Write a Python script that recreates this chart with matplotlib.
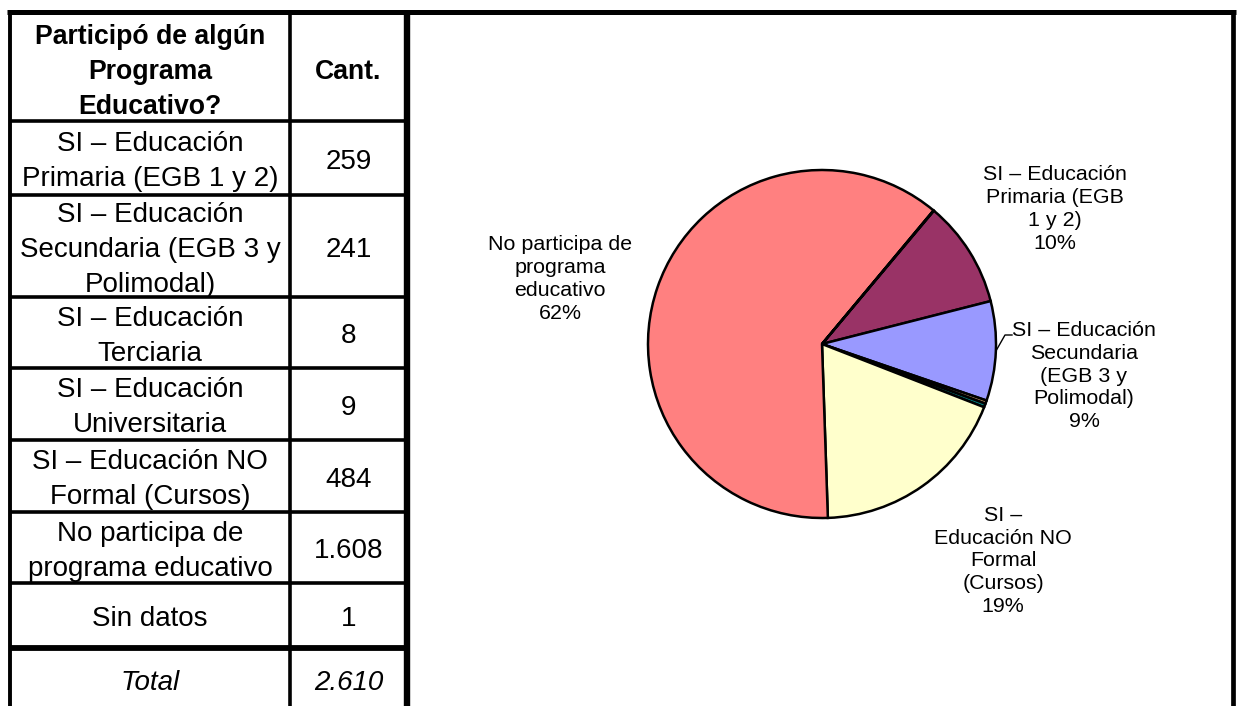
import matplotlib.pyplot as plt
import numpy as np

plt.rcParams['font.family'] = ['Liberation Sans', 'DejaVu Sans']

# datos de la tabla
encabezado = ["Participó de algún", "Programa", "Educativo?"]
categorias = ["SI – Educación\nPrimaria (EGB 1 y 2)",
              "SI – Educación\nSecundaria (EGB 3 y\nPolimodal)",
              "SI – Educación\nTerciaria",
              "SI – Educación\nUniversitaria",
              "SI – Educación NO\nFormal (Cursos)",
              "No participa de\nprograma educativo",
              "Sin datos"]
cantidades = [259, 241, 8, 9, 484, 1608, 1]

# etiquetas de la torta (vacias para las porciones chicas)
etiquetas_torta = ["SI – Educación\nPrimaria (EGB\n1 y 2)",
                   "SI – Educación\nSecundaria\n(EGB 3 y\nPolimodal)",
                   "", "",
                   "SI –\nEducación NO\nFormal\n(Cursos)",
                   "No participa de\nprograma\neducativo",
                   ""]
colores = ["#993366", "#9999FF", "#CC9966", "#008080", "#FFFFCC", "#FF8080", "#0066CC"]


def fmt_miles(n):
    return f"{n:,}".replace(",", ".")


total = sum(cantidades)

fig = plt.figure(figsize=(12.38, 7.06), dpi=100)
bg = fig.add_axes([0, 0, 1, 1])
bg.set_xlim(0, 1238)
bg.set_ylim(706, 0)
bg.axis('off')

# ---- tabla ----
filas_y = [12, 121, 195, 297, 368, 440, 512, 583, 648, 706]
col_x = [10, 290, 407]
x_lab = (col_x[0] + col_x[1]) / 2
x_num = (col_x[1] + col_x[2]) / 2

bg.plot([7, 1236], [12, 12], color='black', lw=3.6, solid_capstyle='butt')
for y in filas_y[1:-1]:
    bg.plot([col_x[0], col_x[2]], [y, y], color='black', lw=2.6, solid_capstyle='butt')
bg.plot([col_x[0], col_x[2]], [648, 648], color='black', lw=4.2, solid_capstyle='butt')
bg.plot([col_x[0], col_x[0]], [12, 706], color='black', lw=2.8, solid_capstyle='butt')
bg.plot([col_x[1], col_x[1]], [12, 706], color='black', lw=2.6, solid_capstyle='butt')
bg.plot([col_x[2], col_x[2]], [12, 706], color='black', lw=4.6, solid_capstyle='butt')
bg.plot([1233, 1233], [12, 706], color='black', lw=3.4, solid_capstyle='butt')

fs_tabla = 20
paso = 35


def lineas(texto, cy, x, fs=fs_tabla, **kw):
    cap = 0.716 * fs * 100 / 72
    partes = texto.split("\n")
    n = len(partes)
    for i, p in enumerate(partes):
        yb = cy + (i - (n - 1) / 2) * paso + cap / 2
        bg.text(x, yb, p, ha='center', va='baseline', fontsize=fs, **kw)


lineas("\n".join(encabezado), 69, x_lab, fs=19.2, fontweight='bold')
lineas("Cant.", 69, x_num, fs=19.2, fontweight='bold')
for i, (cat, v) in enumerate(zip(categorias, cantidades)):
    cy = (filas_y[i + 1] + filas_y[i + 2]) / 2 + 1
    lineas(cat, cy, x_lab)
    lineas(fmt_miles(v), cy, x_num)
lineas("Total", 680, x_lab, style='italic')
lineas(fmt_miles(total), 680, x_num, style='italic')

# ---- torta ----
cx, cy, r = 822, 344, 174
ax = fig.add_axes([(cx - r) / 1238, (706 - cy - r) / 706, 2 * r / 1238, 2 * r / 706])
wedges, _ = ax.pie(cantidades, colors=colores, startangle=50, counterclock=False,
                   wedgeprops=dict(edgecolor='black', linewidth=1.8))
for w in wedges:
    w.set_clip_on(False)
ax.set_xlim(-1, 1)
ax.set_ylim(-1, 1)
ax.axis('off')

pos_etq = [(1055, 209), (1084, 376), None, None, (1003, 561), (560, 279), None]
for w, etq, v, pos in zip(wedges, etiquetas_torta, cantidades, pos_etq):
    if not etq:
        continue
    pct = round(v / total * 100)
    bg.text(pos[0], pos[1], f"{etq}\n{pct}%", ha='center', va='center',
            fontsize=15.4, linespacing=1.26)

# linea guia de Secundaria
a = np.deg2rad((wedges[1].theta1 + wedges[1].theta2) / 2)
px, py = cx + r * np.cos(a), cy - r * np.sin(a)
bg.plot([px, 1005, 1012], [py, 335, 335], color='black', lw=1.0)

fig.savefig("out.png", dpi=100)
